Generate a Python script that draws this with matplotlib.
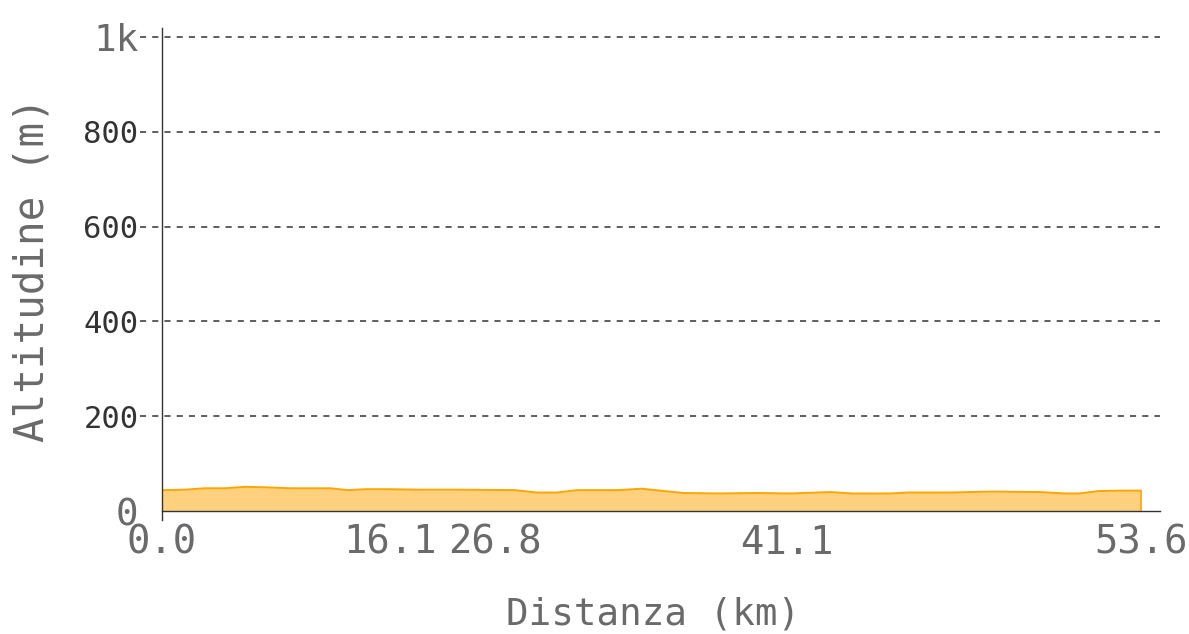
import numpy as np
import matplotlib.pyplot as plt

# elevation profile (km, m)
dist_km = [0.0, 1.26, 2.35, 3.45, 4.55, 5.64, 7.01, 9.20, 10.18, 11.11, 12.48,
           14.13, 16.32, 19.33, 20.53, 21.63, 22.72, 24.91, 26.28, 28.53, 30.55,
           32.58, 34.39, 36.58, 37.78, 39.86, 40.84, 43.14, 45.44, 48.07, 49.44,
           50.26, 51.25, 52.45, 53.6]
alt_m = [44, 45, 48, 48, 51, 50, 48, 48, 44, 46, 46,
         45, 45, 44, 39, 39, 44, 44, 47, 38, 37,
         38, 37, 40, 37, 37, 39, 39, 41, 40, 37,
         37, 42, 43, 43]

# x tick positions (km along the plot) and their labels
xtick_pos = [0.0, 12.5, 18.2, 34.2, 53.6]
xtick_labels = ['0.0', '16.1', '26.8', '41.1', '53.6']
ytick_vals = [0, 200, 400, 600, 800, 1000]
ytick_labels = ['0', '200', '400', '600', '800', '1k']

mono = 'DejaVu Sans Mono'
gray = '#6a6a6a'
dark = '#333333'

fig = plt.figure(figsize=(11.89, 6.34), dpi=100)
ax = fig.add_axes([0.1363, 0.194, 0.8393, 0.7618])

ax.fill_between(dist_km, alt_m, 0, color='#ffa500', alpha=0.5, lw=0)
ax.plot(dist_km, alt_m, color='#ffa500', lw=1.4)
ax.plot([dist_km[-1], dist_km[-1]], [0, alt_m[-1]], color='#ffa500', lw=1.2)

ax.set_xlim(0, 54.65)
ax.set_ylim(0, 1019)

# dashed guides, extending slightly left of the axis
ax.hlines(ytick_vals[1:], -0.022, 1, transform=ax.get_yaxis_transform(),
          colors=dark, linestyles=(0, (4, 4)), lw=1.1, clip_on=False)

for s in ['top', 'right']:
    ax.spines[s].set_visible(False)
ax.spines['left'].set_color(dark)
ax.spines['bottom'].set_color(dark)
ax.spines['left'].set_linewidth(1.0)
ax.spines['bottom'].set_linewidth(1.0)
ax.spines['left'].set_bounds(-19, 1019)

ax.set_yticks(ytick_vals)
ax.set_yticklabels(ytick_labels, family=mono)
ax.tick_params(axis='y', length=0, pad=17)
for lab, v in zip(ax.get_yticklabels(), ytick_vals):
    if v in (0, 1000):
        lab.set_fontsize(27)
        lab.set_color(gray)
    else:
        lab.set_fontsize(22)
        lab.set_color(dark)

ax.set_xticks(xtick_pos)
ax.set_xticklabels(xtick_labels, family=mono, fontsize=28, color=gray)
ax.tick_params(axis='x', length=0, pad=9)

ax.set_xlabel('Distanza (km)', family=mono, fontsize=27, color=gray, labelpad=25)
ax.xaxis.label.set_x(0.492)
ax.set_ylabel('Altitudine (m)', family=mono, fontsize=29.5, color=gray, labelpad=22)

fig.savefig('out.png', dpi=100)
